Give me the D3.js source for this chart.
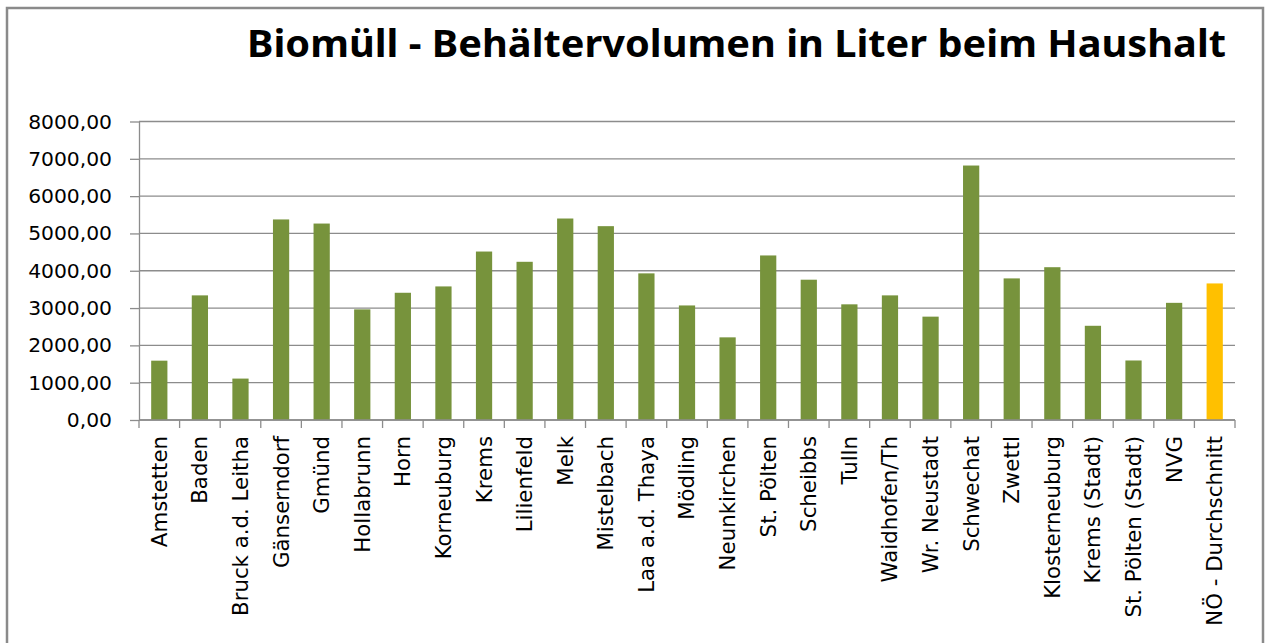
<!DOCTYPE html>
<html>
<head>
<meta charset="utf-8">
<script src="https://cdn.jsdelivr.net/npm/d3@7"></script>
<style>
    html, body { margin: 0; padding: 0; background: #fff; }
    svg { display: block; }
</style>
</head>
<body>
<div id="chart"></div>
<script>
// Werte
const categories = [
    'Amstetten', 'Baden', 'Bruck a.d. Leitha', 'Gänserndorf', 'Gmünd', 'Hollabrunn',
    'Horn', 'Korneuburg', 'Krems', 'Lilienfeld', 'Melk', 'Mistelbach', 'Laa a.d. Thaya',
    'Mödling', 'Neunkirchen', 'St. Pölten', 'Scheibbs', 'Tulln', 'Waidhofen/Th',
    'Wr. Neustadt', 'Schwechat', 'Zwettl', 'Klosterneuburg', 'Krems (Stadt)',
    'St. Pölten (Stadt)', 'NVG', 'NÖ - Durchschnitt'
];
const volumes = [
    1590, 3340, 1110, 5375, 5265, 2965,
    3410, 3580, 4515, 4240, 5400, 5195, 3930,
    3070, 2215, 4410, 3760, 3100, 3340,
    2770, 6820, 3795, 4095, 2525,
    1595, 3140, 3660
];
const highlight = ['NÖ - Durchschnitt'];
const yTicks = [0, 1000, 2000, 3000, 4000, 5000, 6000, 7000, 8000];
const title = 'Biomüll - Behältervolumen in Liter beim Haushalt';

const width = 1266,
    height = 643;

const plot = {left: 139, right: 1235, top: 121.5, bottom: 420};

const green = '#77933c',
    yellow = '#ffc000',
    gridColor = '#8c8c8c',
    labelFont = '"DejaVu Sans", sans-serif';

const data = categories.map(function (c, i) {
    return {name: c, value: volumes[i]};
});

const svg = d3.select('#chart')
    .append('svg')
    .attr('width', width)
    .attr('height', height);

// Rahmen
svg.append('rect')
    .attr('x', 7)
    .attr('y', 8)
    .attr('width', 1256)
    .attr('height', 650)
    .attr('fill', '#fff')
    .attr('stroke', '#8a8a8a')
    .attr('stroke-width', 2.5);

const x = d3.scaleBand()
    .domain(categories)
    .range([plot.left, plot.right])
    .paddingInner(0.6)
    .paddingOuter(0.3);

const y = d3.scaleLinear()
    .domain([0, 8000])
    .range([plot.bottom, plot.top]);

const fmt = function (d) {
    return d3.format('.2f')(d).replace('.', ',');
};

// Gitternetz
svg.append('g')
    .selectAll('line')
    .data(yTicks)
    .enter()
    .append('line')
    .attr('x1', plot.left)
    .attr('x2', plot.right)
    .attr('y1', function (d) { return y(d); })
    .attr('y2', function (d) { return y(d); })
    .attr('stroke', gridColor)
    .attr('stroke-width', 1.3);

// Balken
svg.append('g')
    .selectAll('rect')
    .data(data)
    .enter()
    .append('rect')
    .attr('x', function (d) { return x(d.name); })
    .attr('y', function (d) { return y(d.value); })
    .attr('width', x.bandwidth())
    .attr('height', function (d) { return y(0) - y(d.value); })
    .attr('fill', function (d) {
        return highlight.indexOf(d.name) >= 0 ? yellow : green;
    });

// y-Achse
const yAxis = svg.append('g')
    .attr('transform', 'translate(' + plot.left + ',0)')
    .call(d3.axisLeft(y)
        .tickValues(yTicks)
        .tickFormat(fmt)
        .tickSize(9)
        .tickSizeOuter(0)
        .tickPadding(18));

yAxis.select('.domain')
    .attr('stroke', gridColor)
    .attr('stroke-width', 1.3);

yAxis.selectAll('.tick line')
    .attr('stroke', gridColor)
    .attr('stroke-width', 1.3);

yAxis.selectAll('.tick text')
    .style('font-family', labelFont)
    .style('font-size', '20.3px')
    .attr('fill', '#000');

// x-Achse: Striche an den Kategoriegrenzen
const boundaries = d3.range(categories.length + 1).map(function (i) {
    return plot.left + i * x.step();
});

svg.append('g')
    .selectAll('line')
    .data(boundaries)
    .enter()
    .append('line')
    .attr('x1', function (d) { return d; })
    .attr('x2', function (d) { return d; })
    .attr('y1', plot.bottom)
    .attr('y2', plot.bottom + 8)
    .attr('stroke', gridColor)
    .attr('stroke-width', 1.3);

svg.append('line')
    .attr('x1', plot.left)
    .attr('x2', plot.right)
    .attr('y1', plot.bottom)
    .attr('y2', plot.bottom)
    .attr('stroke', gridColor)
    .attr('stroke-width', 1.3);

// x-Beschriftung, gedreht
svg.append('g')
    .selectAll('text')
    .data(categories)
    .enter()
    .append('text')
    .attr('transform', function (d) {
        return 'translate(' + (x(d) + x.bandwidth() / 2) + ',' + (plot.bottom + 16) + ') rotate(-90)';
    })
    .attr('dy', '0.35em')
    .attr('text-anchor', 'end')
    .style('font-family', labelFont)
    .style('font-size', '21.3px')
    .attr('fill', '#000')
    .text(function (d) { return d; });

// Titel
svg.append('text')
    .attr('x', 1226)
    .attr('y', 57)
    .attr('text-anchor', 'end')
    .attr('textLength', 979)
    .attr('lengthAdjust', 'spacingAndGlyphs')
    .style('font-family', '"Noto Sans", sans-serif')
    .style('font-weight', 'bold')
    .style('font-size', '37px')
    .attr('fill', '#000')
    .text(title);
</script>
</body>
</html>
